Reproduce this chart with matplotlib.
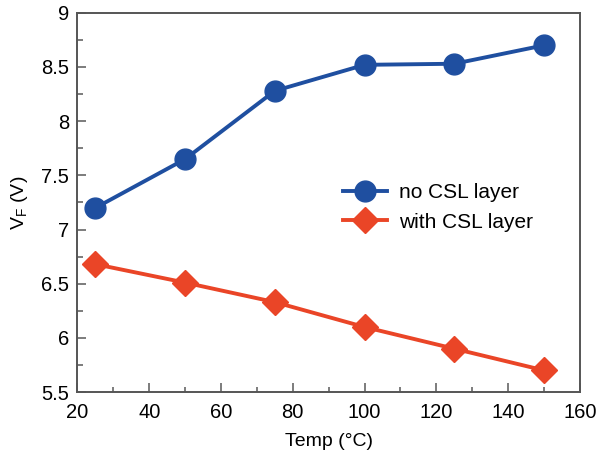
import matplotlib
matplotlib.use("Agg")
import matplotlib.pyplot as plt
from matplotlib.ticker import MultipleLocator

plt.rcParams['font.family'] = ['Liberation Sans', 'DejaVu Sans']
plt.rcParams['mathtext.fontset'] = 'custom'
plt.rcParams['mathtext.rm'] = 'Liberation Sans'

temps = [25, 50, 75, 100, 125, 150]
no_csl = [7.20, 7.65, 8.28, 8.52, 8.53, 8.70]
with_csl = [6.68, 6.51, 6.33, 6.10, 5.90, 5.70]

fig = plt.figure(figsize=(5.96, 4.58), dpi=100)
ax = fig.add_axes([0.130, 0.144, 0.843, 0.828])

ax.plot(temps, no_csl, color='#1f4fa0', lw=2.8, marker='o', ms=15,
        label='no CSL layer')
ax.plot(temps, with_csl, color='#ea4527', lw=2.8, marker='D', ms=13,
        label='with CSL layer')

ax.set_xlim(20, 160)
ax.set_ylim(5.5, 9)
ax.xaxis.set_major_locator(MultipleLocator(20))
ax.xaxis.set_minor_locator(MultipleLocator(10))
ax.yaxis.set_minor_locator(MultipleLocator(0.25))
ax.set_yticks([5.5, 6, 6.5, 7, 7.5, 8, 8.5, 9])
ax.set_yticklabels(['5.5', '6', '6.5', '7', '7.5', '8', '8.5', '9'])

for s in ax.spines.values():
    s.set_color('#555555')
    s.set_linewidth(1.4)
ax.tick_params(which='both', direction='in', color='#666666', labelsize=14.5,
               top=False, right=False, width=1.2)
ax.tick_params(axis='x', which='major', length=6.5, pad=8)
ax.tick_params(axis='x', which='minor', length=3.5)
ax.tick_params(axis='y', which='major', length=6.5, pad=6)
ax.tick_params(axis='y', which='minor', length=4)

ax.set_xlabel('Temp (°C)', fontsize=14, labelpad=8)
ax.set_ylabel(r'V$_\mathrm{F}$ (V)', fontsize=14, labelpad=8)

ax.legend(loc='center left', bbox_to_anchor=(0.528, 0.487), frameon=False,
          fontsize=15, handlelength=2.1, handletextpad=0.6,
          labelspacing=0.5, borderpad=0, borderaxespad=0)

fig.savefig('out.png', dpi=100)
